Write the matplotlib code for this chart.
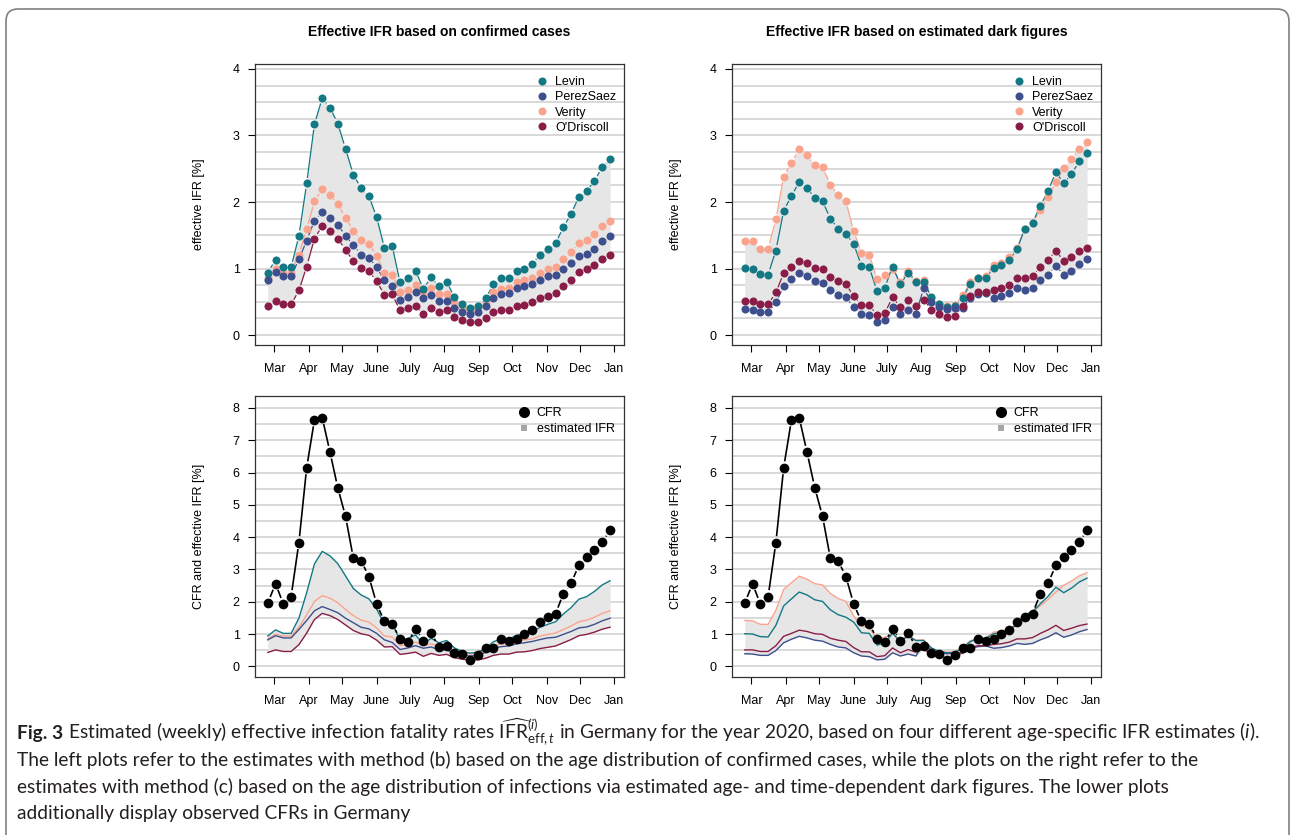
import matplotlib
matplotlib.use("Agg")
import matplotlib.pyplot as plt
import matplotlib.dates as mdates
from matplotlib.lines import Line2D
from matplotlib.collections import LineCollection
from matplotlib.patches import FancyBboxPatch
from matplotlib.transforms import IdentityTransform
import numpy as np
import pandas as pd

plt.rcParams['font.family'] = ['Liberation Sans', 'DejaVu Sans']
plt.rcParams['mathtext.fontset'] = 'custom'
plt.rcParams['mathtext.rm'] = 'Lato'
plt.rcParams['mathtext.it'] = 'Lato:italic'
plt.rcParams['mathtext.bf'] = 'Lato:bold'

# weekly estimates (calendar weeks 9-53 of 2020)
weeks = pd.date_range('2020-02-24', periods=45, freq='7D')
month_ticks = pd.date_range('2020-03-01', '2021-01-01', freq='MS')
month_labels = ['Mar', 'Apr', 'May', 'June', 'July', 'Aug', 'Sep', 'Oct', 'Nov', 'Dec', 'Jan']

series_names = ['Levin', 'PerezSaez', 'Verity', "O'Driscoll"]
series_colors = ['#127884', '#3e4f8e', '#fba48d', '#8a1d48']

# method (b): age distribution of confirmed cases
levin_conf = [0.94, 1.13, 1.02, 1.02, 1.49, 2.28, 3.17, 3.56, 3.42, 3.18, 2.80, 2.41, 2.21, 2.09, 1.77,
              1.31, 1.34, 0.79, 0.86, 0.97, 0.69, 0.87, 0.73, 0.80, 0.57, 0.46, 0.41, 0.44, 0.55, 0.76,
              0.85, 0.85, 0.96, 1.00, 1.07, 1.21, 1.30, 1.38, 1.62, 1.82, 2.08, 2.16, 2.32, 2.52, 2.65]
perez_conf = [0.82, 0.95, 0.88, 0.88, 1.14, 1.42, 1.72, 1.85, 1.76, 1.66, 1.49, 1.35, 1.21, 1.16, 1.02,
              0.82, 0.74, 0.52, 0.57, 0.64, 0.56, 0.60, 0.51, 0.51, 0.40, 0.34, 0.32, 0.34, 0.43, 0.56,
              0.61, 0.63, 0.70, 0.73, 0.77, 0.83, 0.88, 0.90, 0.99, 1.08, 1.19, 1.22, 1.30, 1.41, 1.49]
verity_conf = [0.85, 1.00, 0.94, 0.94, 1.21, 1.59, 2.01, 2.19, 2.11, 1.97, 1.76, 1.57, 1.43, 1.37, 1.19,
               0.94, 0.91, 0.64, 0.68, 0.75, 0.64, 0.70, 0.61, 0.61, 0.49, 0.42, 0.38, 0.42, 0.50, 0.64,
               0.69, 0.71, 0.79, 0.82, 0.85, 0.94, 0.99, 1.03, 1.14, 1.25, 1.38, 1.43, 1.52, 1.64, 1.72]
odriscoll_conf = [0.43, 0.51, 0.46, 0.46, 0.67, 1.03, 1.45, 1.64, 1.57, 1.45, 1.28, 1.11, 1.01, 0.96, 0.81,
                  0.60, 0.61, 0.37, 0.40, 0.44, 0.31, 0.40, 0.34, 0.37, 0.27, 0.22, 0.19, 0.20, 0.25, 0.34,
                  0.38, 0.38, 0.44, 0.45, 0.49, 0.55, 0.59, 0.63, 0.73, 0.83, 0.95, 0.99, 1.06, 1.15, 1.21]

# method (c): infections via estimated dark figures
levin_dark = [1.01, 1.00, 0.92, 0.91, 1.27, 1.87, 2.09, 2.30, 2.21, 2.06, 2.01, 1.75, 1.60, 1.52, 1.37,
              1.04, 1.02, 0.66, 0.71, 1.03, 0.76, 0.94, 0.80, 0.80, 0.57, 0.46, 0.42, 0.43, 0.56, 0.77,
              0.85, 0.86, 1.01, 1.05, 1.13, 1.29, 1.60, 1.69, 1.94, 2.17, 2.45, 2.28, 2.42, 2.61, 2.73]
perez_dark = [0.39, 0.38, 0.34, 0.34, 0.49, 0.73, 0.84, 0.93, 0.88, 0.81, 0.78, 0.68, 0.60, 0.57, 0.42,
              0.32, 0.30, 0.20, 0.22, 0.42, 0.32, 0.38, 0.32, 0.70, 0.50, 0.42, 0.39, 0.41, 0.40, 0.56,
              0.61, 0.63, 0.56, 0.58, 0.63, 0.71, 0.68, 0.71, 0.82, 0.91, 1.04, 0.90, 0.97, 1.07, 1.14]
verity_dark = [1.42, 1.41, 1.30, 1.30, 1.74, 2.38, 2.59, 2.79, 2.70, 2.56, 2.52, 2.26, 2.10, 2.01, 1.56,
               1.24, 1.21, 0.84, 0.90, 1.00, 0.80, 0.97, 0.81, 0.82, 0.55, 0.47, 0.44, 0.45, 0.60, 0.79,
               0.86, 0.88, 1.06, 1.09, 1.17, 1.31, 1.60, 1.69, 1.88, 2.07, 2.30, 2.51, 2.64, 2.80, 2.90]
odriscoll_dark = [0.51, 0.51, 0.46, 0.46, 0.64, 0.93, 1.02, 1.12, 1.08, 1.01, 0.99, 0.87, 0.81, 0.77, 0.58,
                  0.45, 0.45, 0.30, 0.33, 0.57, 0.42, 0.52, 0.44, 0.53, 0.38, 0.31, 0.27, 0.29, 0.44, 0.58,
                  0.64, 0.64, 0.68, 0.70, 0.75, 0.85, 0.85, 0.89, 1.02, 1.13, 1.27, 1.11, 1.18, 1.26, 1.31]

# observed CFR in Germany
cfr = [1.96, 2.56, 1.93, 2.16, 3.83, 6.15, 7.63, 7.70, 6.63, 5.53, 4.64, 3.35, 3.27, 2.78, 1.93,
       1.39, 1.31, 0.86, 0.74, 1.16, 0.80, 1.03, 0.61, 0.64, 0.41, 0.39, 0.21, 0.35, 0.58, 0.58,
       0.85, 0.80, 0.84, 1.00, 1.11, 1.37, 1.53, 1.63, 2.25, 2.58, 3.13, 3.37, 3.61, 3.85, 4.21]

conf_series = [levin_conf, perez_conf, verity_conf, odriscoll_conf]
dark_series = [levin_dark, perez_dark, verity_dark, odriscoll_dark]

fill_col = '#e6e6e6'
grid_col = '#d6d6d6'
draw_order = [2, 0, 1, 3]

W, H = 1290, 835
fig = plt.figure(figsize=(W / 100, H / 100), dpi=100)


def add_ax(l, t, r, b):
    return fig.add_axes([l / W, 1 - b / H, (r - l) / W, (b - t) / H])


def style_ax(ax, ylim, yticks, grid_step, ylabel):
    ax.set_xlim(pd.Timestamp('2020-02-12 12:00'), pd.Timestamp('2021-01-09 14:00'))
    ax.set_ylim(*ylim)
    for g in np.arange(0, yticks[-1] + 0.001, grid_step):
        ax.axhline(g, color=grid_col, lw=1.3, zorder=0)
    ax.set_xticks(month_ticks)
    ax.set_xticklabels(month_labels)
    ax.set_yticks(yticks)
    ax.tick_params(direction='out', length=5, width=0.8, labelsize=9, pad=6)
    ax.tick_params(axis='x', pad=8)
    for s in ax.spines.values():
        s.set_linewidth(0.9)
        s.set_color('#333333')
    ax.set_ylabel(ylabel, fontsize=9)
    ax.yaxis.set_label_coords(-0.135, 0.5)


def gapped_line(ax, y, color, lw, gap, zorder):
    # like R's type="b": line pieces stop short of each point
    xs = mdates.date2num(weeks)
    pts = ax.transData.transform(np.column_stack([xs, y]))
    inv = ax.transData.inverted()
    segs = []
    for p, q in zip(pts[:-1], pts[1:]):
        d = q - p
        L = np.hypot(d[0], d[1])
        if L > 2 * gap:
            u = d / L
            segs.append(inv.transform(np.array([p + u * gap, q - u * gap])))
    ax.add_collection(LineCollection(segs, colors=color, linewidths=lw, zorder=zorder))


def top_panel(ax, data):
    style_ax(ax, (-0.15, 4.075), [0, 1, 2, 3, 4], 0.25, 'effective IFR [%]')
    arr = np.array(data)
    ax.fill_between(weeks, arr.min(axis=0), arr.max(axis=0), color=fill_col, lw=0, zorder=1)
    for i in draw_order:
        gapped_line(ax, data[i], series_colors[i], 0.9, 5.5, 2)
        ax.plot(weeks, data[i], 'o', color=series_colors[i], ms=5.8, mew=0, zorder=3)
    ax.set_xlim(pd.Timestamp('2020-02-12 12:00'), pd.Timestamp('2021-01-09 14:00'))
    ax.set_ylim(-0.15, 4.075)
    handles = [Line2D([], [], marker='o', ls='', color=c, ms=5.8, mew=0) for c in series_colors]
    ax.legend(handles, series_names, loc='upper left', bbox_to_anchor=(0.762, 0.957),
              frameon=False, fontsize=9, handlelength=1.0, handletextpad=0.5,
              labelspacing=0.26, borderaxespad=0, borderpad=0)


def bottom_panel(ax, data):
    style_ax(ax, (-0.33, 8.37), [0, 1, 2, 3, 4, 5, 6, 7, 8], 0.5, 'CFR and effective IFR [%]')
    arr = np.array(data)
    ax.fill_between(weeks, arr.min(axis=0), arr.max(axis=0), color=fill_col, lw=0, zorder=1)
    for i in draw_order:
        ax.plot(weeks, data[i], '-', color=series_colors[i], lw=1.0, zorder=2)
    gapped_line(ax, cfr, 'black', 1.2, 6.5, 4)
    ax.plot(weeks, cfr, 'o', color='black', ms=7, mew=0, zorder=5)
    ax.set_xlim(pd.Timestamp('2020-02-12 12:00'), pd.Timestamp('2021-01-09 14:00'))
    ax.set_ylim(-0.33, 8.37)
    handles = [Line2D([], [], marker='o', ls='', color='black', ms=7),
               Line2D([], [], marker='s', ls='', color='#a6a6a6', ms=4.5, mew=0)]
    ax.legend(handles, ['CFR', 'estimated IFR'], loc='upper left', bbox_to_anchor=(0.713, 0.961),
              frameon=False, fontsize=9, handlelength=1.0, handletextpad=0.5,
              labelspacing=0.33, borderaxespad=0, borderpad=0)


ax1 = add_ax(255, 64, 624, 345)
ax2 = add_ax(732, 64, 1101, 345)
ax3 = add_ax(255, 396, 624, 677)
ax4 = add_ax(732, 396, 1101, 677)

top_panel(ax1, conf_series)
top_panel(ax2, dark_series)
bottom_panel(ax3, conf_series)
bottom_panel(ax4, dark_series)

fig.text((255 + 624) / 2 / W, 1 - 32 / H, 'Effective IFR based on confirmed cases',
         ha='center', va='center', fontsize=10, weight='bold')
fig.text((732 + 1101) / 2 / W, 1 - 32 / H, 'Effective IFR based on estimated dark figures',
         ha='center', va='center', fontsize=10, weight='bold')

# rounded frame around the figure
frame = FancyBboxPatch((6, -60), 1283, H - 9 + 60, boxstyle='round,pad=0,rounding_size=12',
                       transform=IdentityTransform(), fill=False, edgecolor='#808080', lw=1.2)
fig.add_artist(frame)

# caption
cap_font = 'Lato'
cap_size = 13.8
cap_col = '#231f20'
x0 = 17
base = [739, 766, 793, 819]
fig_bold = fig.text(x0 / W, 1 - base[0] / H, 'Fig. 3', family=cap_font, weight='bold',
                    fontsize=cap_size, color=cap_col, va='baseline')
fig.canvas.draw()
bb = fig_bold.get_window_extent()
fig.text((bb.x1 + 5) / W, 1 - base[0] / H,
         r'Estimated (weekly) effective infection fatality rates '
         r'$\widehat{\mathrm{IFR}}^{(i)}_{\mathrm{eff},t}$'
         r' in Germany for the year 2020, based on four different age-specific IFR estimates ($i$).',
         family=cap_font, fontsize=cap_size, color=cap_col, va='baseline')
cap_lines = [
    'The left plots refer to the estimates with method (b) based on the age distribution of confirmed cases, '
    'while the plots on the right refer to the',
    'estimates with method (c) based on the age distribution of infections via estimated age- and '
    'time-dependent dark figures. The lower plots',
    'additionally display observed CFRs in Germany',
]
for line, yb in zip(cap_lines, base[1:]):
    fig.text(x0 / W, 1 - yb / H, line, family=cap_font, fontsize=cap_size, color=cap_col, va='baseline')

fig.savefig('out.png', dpi=100)
